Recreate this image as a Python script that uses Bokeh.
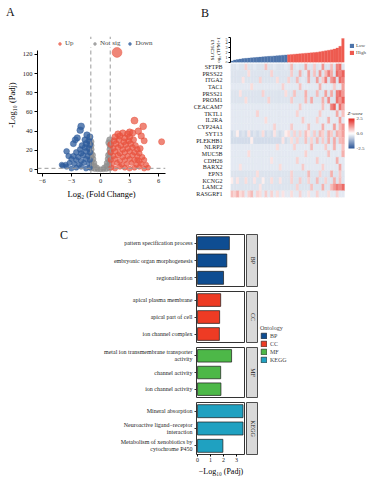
import math
from bokeh.plotting import figure
from bokeh.layouts import row, column
from bokeh.models import (ColumnDataSource, Range1d, FactorRange, Span, Legend, LegendItem,
                          Label, LinearColorMapper, ColorBar, FixedTicker, PrintfTickFormatter, Div)
from bokeh.transform import transform
from bokeh.embed import file_html
from bokeh.resources import INLINE

FONT = "Liberation Serif"

# ---------------- Panel A : volcano data ----------------
up_x = [1.1, 1.5, 2.0, 2.5, 3.0, 3.5, 4.0, 4.5, 4.9,
        1.2, 1.7, 2.2, 2.7, 3.2, 3.7, 4.2, 4.7,
        1.05, 1.5, 2.0, 2.5, 3.0, 3.5, 4.0, 4.5,
        1.3, 1.8, 2.3, 2.8, 3.3, 3.8, 4.3,
        1.05, 1.5, 2.0, 2.5, 3.0, 3.5, 4.0,
        1.3, 1.8, 2.3, 2.8, 3.3, 3.8,
        1.05, 1.6, 2.1, 2.6, 3.1, 3.6,
        1.4, 1.9, 2.4, 2.9, 3.4,
        1.5, 2.0, 2.5, 3.0,
        1.8, 2.3, 2.8,
        1.7, 3.5, 4.4, 4.2, 3.9, 6.3, 4.5, 4.1, 3.8, 3.0, 3.3]
up_y = [2, 1, 3, 2, 1, 2, 3, 1, 2,
        6, 7, 5, 6, 7, 5, 6, 5,
        10, 11, 9, 10, 11, 10, 9, 10,
        14, 15, 13, 14, 15, 14, 13,
        18, 19, 17, 18, 19, 18, 17,
        22, 23, 21, 22, 23, 21,
        26, 27, 25, 26, 27, 25,
        30, 31, 29, 30, 31,
        34, 35, 33, 34,
        37, 38, 37,
        122, 51, 45, 35, 40, 29, 30, 22, 10, 39, 38]

down_x = [-1.1, -1.5, -2.0, -2.5, -3.0, -3.5, -3.9,
          -1.2, -1.7, -2.2, -2.7, -3.2, -3.6,
          -1.1, -1.5, -2.0, -2.5, -3.0,
          -1.3, -1.8, -2.3, -2.8,
          -1.1, -1.5, -2.0, -2.5,
          -1.2, -1.6, -2.1,
          -1.1, -1.5, -1.9,
          -1.2, -1.6,
          -1.1, -1.4,
          -2.0, -2.1, -2.4, -2.6, -2.8, -3.5, -3.3, -4.0]
down_y = [2, 1, 3, 2, 1, 3, 4,
          6, 7, 5, 6, 7, 5,
          10, 11, 9, 10, 11,
          14, 15, 13, 14,
          18, 19, 17, 18,
          22, 23, 21,
          26, 27, 25,
          30, 31,
          34, 36,
          45, 41, 33, 31, 27, 19, 14, 5]

ns_x = [-0.9, -0.6, -0.3, 0.0, 0.3, 0.6, 0.9,
        -0.9, -0.6, -0.35, 0.35, 0.6, 0.9,
        -0.9, -0.65, 0.65, 0.9,
        -0.95, -0.75, 0.75, 0.95,
        -0.95, -0.8, 0.8, 0.95,
        -0.95, 0.95,
        -0.97, 0.97,
        -0.98, 0.85, 0.95]
ns_y = [1, 0.5, 0.3, 0.2, 0.3, 0.5, 1,
        5, 4, 2, 2, 4, 5,
        9, 7, 7, 9,
        13, 11, 11, 13,
        17, 15, 15, 17,
        21, 21,
        25, 25,
        29, 28, 31]

fc_cut = 1.0
p_cut = 1.3  # -log10(0.05)

# ---------------- Panel B : SLC26A3 expression + heatmap ----------------
slc_low = [0.3, 0.5, 0.6, 0.7, 0.8, 0.85, 0.9, 0.95, 1.0, 1.05,
           1.1, 1.15, 1.2, 1.25, 1.3, 1.35, 1.4, 1.45, 1.5, 1.55]
slc_high = [1.6, 1.65, 1.7, 1.75, 1.8, 1.85, 1.9, 1.95, 2.0, 2.05,
            2.1, 2.2, 2.3, 2.4, 2.5, 2.6, 2.75, 2.95, 3.3, 4.9]

genes = ["SFTPB", "PRSS22", "ITGA2", "TAC1", "PRSS21", "PROM1", "CEACAM7", "TKTL1",
         "IL2RA", "CYP24A1", "SYT13", "PLEKHB1", "NLRP2", "MUC5B", "CDH26", "BARX2",
         "EPN3", "KCNG2", "LAMC2", "RASGRF1"]

z_rows = [
    [-0.4,-0.4,-0.3,-0.4,-0.4,0.5,-0.4,-0.4,-0.3,-0.4,-0.4,-0.4,0.7,-0.4,-0.4,-0.3,-0.4,-0.4,-0.4,-0.3,
     -0.4,0.8,-0.4,-0.3,-0.4,-0.4,1.0,-0.4,-0.4,0.6,-0.4,-0.3,1.2,-0.4,-0.4,0.8,-0.4,1.4,1.6,-0.4],
    [-0.4,-0.4,-0.4,-0.4,-0.4,-0.4,0.4,-0.4,-0.4,-0.4,-0.4,-0.4,-0.4,-0.4,0.5,-0.4,-0.4,-0.4,-0.4,-0.4,
     -0.4,0.6,-0.4,-0.4,0.9,-0.4,-0.3,1.1,-0.4,0.7,-0.4,1.2,-0.4,0.8,1.5,1.0,-0.4,1.7,1.4,1.8],
    [-0.4,-0.4,-0.4,-0.4,0.3,-0.4,-0.4,-0.4,-0.4,-0.4,0.5,-0.4,-0.4,-0.4,-0.4,-0.4,0.4,-0.4,-0.4,-0.4,
     0.5,-0.4,-0.4,0.8,-0.4,-0.3,-0.4,1.0,-0.4,-0.4,1.1,-0.4,0.6,1.4,-0.4,1.2,1.5,-0.4,1.7,1.4],
    [-0.3,-0.3,-0.3,-0.3,-0.3,-0.3,-0.3,0.4,-0.3,-0.3,-0.3,-0.3,-0.3,-0.3,-0.3,-0.3,-0.3,-0.3,0.5,-0.3,
     -0.3,-0.3,-0.3,-0.3,0.7,-0.3,-0.3,-0.3,-0.3,-0.3,-0.3,0.9,-0.3,-0.3,-0.3,-0.3,0.6,-0.3,-0.3,1.1],
    [-0.4,-0.4,-0.4,0.3,-0.4,-0.4,-0.4,-0.4,-0.4,-0.4,-0.4,0.5,-0.4,-0.4,-0.4,-0.4,-0.4,-0.4,-0.4,0.4,
     -0.4,-0.4,0.7,-0.4,-0.4,-0.4,0.9,-0.4,-0.4,-0.4,0.8,-0.4,-0.4,1.1,-0.4,1.0,-0.4,1.5,1.7,1.2],
    [-0.4,-0.4,-0.4,-0.4,-0.4,0.4,-0.4,-0.4,-0.4,-0.4,-0.4,-0.4,-0.4,0.5,-0.4,-0.4,-0.4,-0.4,-0.4,-0.4,
     -0.4,0.6,-0.4,-0.4,-0.4,-0.4,0.8,-0.4,1.0,-0.4,-0.4,-0.4,0.9,-0.4,1.3,-0.4,-0.4,1.6,1.2,1.8],
    [-0.3,-0.3,-0.3,-0.3,-0.3,-0.3,-0.3,-0.3,-0.3,-0.3,-0.3,-0.3,-0.3,-0.3,-0.3,-0.3,-0.3,-0.3,-0.3,-0.3,
     -0.3,-0.3,-0.3,-0.3,0.6,-0.3,-0.3,-0.3,-0.3,-0.3,-0.3,-0.3,0.7,-0.3,-0.3,1.4,1.8,-0.3,1.6,1.0],
    [-0.3,-0.3,-0.3,-0.3,-0.3,-0.3,-0.3,-0.3,-0.3,0.5,-0.3,-0.3,-0.3,-0.3,-0.3,-0.3,-0.3,-0.3,-0.3,-0.3,
     -0.3,-0.3,-0.3,0.5,-0.3,-0.3,-0.3,-0.3,-0.3,-0.3,-0.3,0.6,-0.3,-0.3,-0.3,-0.3,-0.3,1.0,-0.3,0.7],
    [-0.3,-0.3,-0.3,-0.3,-0.3,-0.3,-0.3,-0.3,-0.3,-0.3,-0.3,-0.3,0.4,-0.3,-0.3,-0.3,-0.3,-0.3,-0.3,-0.3,
     -0.3,-0.3,-0.3,-0.3,-0.3,0.6,-0.3,-0.3,-0.3,-0.3,0.5,-0.3,-0.3,-0.3,0.9,-0.3,-0.3,-0.3,1.1,-0.3],
    [-0.3,-0.3,-0.3,-0.3,-0.3,-0.3,-0.3,-0.3,-0.3,-0.3,-0.3,-0.3,-0.3,-0.3,-0.3,0.5,-0.3,-0.3,-0.3,-0.3,
     -0.3,0.6,-0.3,-0.3,-0.3,-0.3,-0.3,0.7,-0.3,-0.3,-0.3,-0.3,0.9,-0.3,-0.3,-0.3,1.1,-0.3,0.8,1.2],
    [-0.5,-0.4,0.2,-0.5,-0.4,-0.5,0.3,-0.5,-0.4,-0.5,-0.4,0.4,-0.5,-0.4,-0.5,0.3,-0.4,-0.5,-0.4,0.2,
     0.4,-0.4,0.5,-0.4,0.5,-0.4,0.7,0.3,-0.4,0.6,-0.4,0.8,0.5,-0.4,0.9,0.6,-0.4,0.9,0.7,1.1],
    [-0.5,-0.5,-0.5,-0.5,-0.5,-0.5,-0.5,0.2,-0.5,-0.5,-0.5,-0.5,-0.5,-0.5,-0.5,-0.5,-0.5,-0.5,0.3,-0.5,
     -0.4,0.4,-0.4,0.5,-0.4,-0.4,0.7,-0.4,0.5,-0.4,0.8,-0.4,0.6,-0.4,0.9,-0.4,1.0,-0.4,0.8,0.9],
    [-0.3,-0.3,-0.3,-0.3,-0.3,-0.3,-0.3,-0.3,-0.3,-0.3,-0.3,-0.3,-0.3,-0.3,-0.3,-0.3,0.4,-0.3,-0.3,-0.3,
     -0.3,-0.3,0.5,-0.3,-0.3,-0.3,-0.3,-0.3,0.8,-0.3,-0.3,-0.3,-0.3,0.6,-0.3,-0.3,0.9,-0.3,-0.3,0.7],
    [-0.3,-0.3,-0.3,-0.3,-0.3,-0.3,0.4,-0.3,-0.3,-0.3,-0.3,-0.3,-0.3,-0.3,-0.3,-0.3,-0.3,-0.3,-0.3,-0.3,
     -0.3,-0.3,-0.3,-0.3,-0.3,-0.3,0.5,-0.3,-0.3,-0.3,-0.3,-0.3,-0.3,-0.3,0.7,-0.3,-0.3,-0.3,-0.3,0.9],
    [-0.3,-0.3,-0.3,-0.3,-0.3,-0.3,-0.3,-0.3,-0.3,-0.3,-0.3,-0.3,-0.3,-0.3,0.3,-0.3,-0.3,-0.3,-0.3,-0.3,
     -0.3,-0.3,-0.3,0.5,-0.3,-0.3,-0.3,-0.3,-0.3,-0.3,0.6,-0.3,-0.3,-0.3,-0.3,-0.3,-0.3,0.9,-0.3,-0.3],
    [-0.3,-0.3,-0.3,0.3,-0.3,-0.3,-0.3,-0.3,-0.3,-0.3,-0.3,-0.3,-0.3,-0.3,-0.3,-0.3,-0.3,0.4,-0.3,-0.3,
     -0.3,-0.3,-0.3,-0.3,-0.3,0.6,-0.3,-0.3,-0.3,-0.3,-0.3,-0.3,0.5,-0.3,-0.3,-0.3,-0.3,-0.3,1.0,-0.3],
    [-0.4,-0.4,-0.4,-0.4,-0.4,-0.4,-0.4,-0.4,-0.4,0.4,-0.4,-0.4,-0.4,-0.4,-0.4,-0.4,-0.4,-0.4,-0.4,-0.4,
     -0.4,0.5,-0.4,-0.4,-0.4,-0.4,-0.4,0.8,-0.4,-0.4,-0.4,0.5,-0.4,-0.4,-0.4,0.9,-0.4,-0.4,0.6,-0.4],
    [0.2,-0.4,0.3,-0.4,-0.4,0.4,-0.4,-0.4,0.3,-0.4,-0.4,0.2,-0.4,-0.4,0.4,-0.4,-0.4,0.3,-0.4,-0.4,
     -0.4,0.5,-0.4,-0.4,0.6,-0.4,-0.4,0.5,-0.4,-0.4,0.8,-0.4,-0.4,0.5,-0.4,-0.4,0.9,-0.4,0.7,-0.4],
    [-0.4,-0.4,-0.4,-0.4,-0.4,-0.4,-0.4,-0.4,-0.4,-0.4,0.3,-0.4,-0.4,-0.4,-0.4,-0.4,-0.4,-0.4,-0.4,-0.4,
     -0.4,-0.4,-0.4,0.5,-0.4,-0.4,-0.4,-0.4,0.7,-0.4,-0.4,-0.4,0.9,-0.4,-0.4,0.8,1.2,1.5,1.3,1.7],
    [0.7,0.5,0.9,0.4,0.6,-0.3,0.5,0.8,-0.3,0.5,0.4,-0.3,0.6,-0.3,0.5,-0.3,0.4,-0.3,0.3,-0.3,
     -0.3,0.4,-0.3,-0.3,0.5,-0.3,-0.3,0.3,-0.3,-0.3,0.5,-0.3,-0.3,-0.3,0.4,-0.3,-0.3,0.5,-0.3,-0.3],
]

# ---------------- Panel C : enrichment ----------------
bp_terms = ["pattern specification process", "embryonic organ morphogenesis", "regionalization"]
bp_vals = [2.45, 2.25, 2.0]
cc_terms = ["apical plasma membrane", "apical part of cell", "ion channel complex"]
cc_vals = [1.78, 1.7, 1.68]
mf_terms = ["metal ion transmembrane transporter\nactivity", "channel activity", "ion channel activity"]
mf_vals = [2.62, 1.78, 1.8]
kegg_terms = ["Mineral absorption", "Neuroactive ligand\u2212receptor\ninteraction",
              "Metabolism of xenobiotics by\ncytochrome P450"]
kegg_vals = [3.5, 3.5, 1.95]
ontologies = ["BP", "CC", "MF", "KEGG"]
ont_colors = ["#0E4D92", "#EE3B24", "#4DB848", "#1FA1C1"]


def base_fig(**kw):
    p = figure(toolbar_location=None, output_backend="svg", **kw)
    p.grid.visible = False
    p.background_fill_color = "white"
    p.border_fill_color = "white"
    return p


def style_axis(ax, label_size="7px", title_size="8.5px"):
    ax.major_label_text_font = FONT
    ax.major_label_text_font_size = label_size
    ax.axis_label_text_font = FONT
    ax.axis_label_text_font_size = title_size
    ax.axis_label_text_font_style = "normal"
    ax.major_label_text_color = "#222222"
    ax.axis_label_text_color = "#000000"


def letter(txt, w, h, left, top):
    return Div(text=txt, width=w, height=h, margin=0,
               styles={"font-family": FONT, "font-size": "12px", "line-height": "12px",
                       "padding-left": "%dpx" % left, "padding-top": "%dpx" % top,
                       "box-sizing": "border-box", "color": "#111111"})


# ======== Panel A ========
# frame reaches up to the legend row; the axis line stops at the data area
pa = base_fig(frame_width=128, frame_height=137, min_border_left=37, min_border_right=25,
              min_border_top=0, min_border_bottom=50,
              x_range=Range1d(-6.5, 6.7), y_range=Range1d(-4.1, 138.6))
pa.outline_line_color = None
pa.xaxis.ticker = FixedTicker(ticks=[-6, -3, 0, 3, 6])
pa.yaxis.ticker = FixedTicker(ticks=[0, 20, 40, 60, 80, 100, 120])
pa.yaxis.bounds = (-4.1, 124)
pa.xaxis.axis_label = "Log\u2082 (Fold Change)"
pa.yaxis.axis_label = "-Log\u2081\u2080 (Padj)"
for ax in (pa.xaxis[0], pa.yaxis[0]):
    style_axis(ax, label_size="6.5px")
    ax.major_tick_out = 3
    ax.major_tick_in = 0
    ax.minor_tick_line_color = None
    ax.major_label_standoff = 2
    ax.axis_label_standoff = 3
    ax.axis_line_color = "black"
    ax.major_tick_line_color = "black"

for loc in (-fc_cut, fc_cut):
    pa.add_layout(Span(location=loc, dimension="height", line_color="#9A9A9A",
                       line_dash="4 3", line_width=1))
pa.add_layout(Span(location=p_cut, dimension="width", line_color="#9A9A9A",
                   line_dash="4 3", line_width=1))


def sizes(ys):
    return [5 + min(v, 125) / 25 for v in ys]


r_ns = pa.scatter(x=ns_x, y=ns_y, size=sizes(ns_y), fill_color="#8E8E8E", line_color="#8E8E8E",
                  fill_alpha=0.75, line_alpha=0.9, line_width=0.5)
r_down = pa.scatter(x=down_x, y=down_y, size=sizes(down_y), fill_color="#2E5C9C",
                    line_color="#2E5C9C", fill_alpha=0.75, line_alpha=0.9, line_width=0.5)
r_up = pa.scatter(x=up_x, y=up_y, size=sizes(up_y), fill_color="#E8523E", line_color="#E8523E",
                  fill_alpha=0.7, line_alpha=0.9, line_width=0.5)

leg_a = Legend(items=[LegendItem(label="Up", renderers=[r_up]),
                      LegendItem(label="Not sig", renderers=[r_ns]),
                      LegendItem(label="Down", renderers=[r_down])],
               orientation="horizontal", location=(19, 126),
               label_text_font=FONT, label_text_font_size="7px", glyph_width=7, glyph_height=7,
               label_standoff=2, spacing=6, padding=1, margin=0, border_line_color=None,
               background_fill_color="white", background_fill_alpha=1, label_height=8)
pa.add_layout(leg_a)

# ======== Panel B ========
N = len(slc_low) + len(slc_high)
pbt = base_fig(frame_width=114, frame_height=25, min_border_left=38, min_border_right=24,
               min_border_top=0, min_border_bottom=1, x_range=Range1d(0, N),
               y_range=Range1d(0, 5.1), x_axis_location=None)
pbt.outline_line_color = None
r_low = pbt.vbar(x=[i + 0.5 for i in range(len(slc_low))], top=slc_low, width=1,
                 fill_color="#4E74AA", line_color="#4E74AA", line_width=0.3)
r_high = pbt.vbar(x=[len(slc_low) + i + 0.5 for i in range(len(slc_high))], top=slc_high, width=1,
                  fill_color="#EE5B50", line_color="#EE5B50", line_width=0.3)
pbt.yaxis.ticker = FixedTicker(ticks=[0, 1, 2, 3, 4, 5])
pbt.yaxis.axis_label = "SLC26A3\nlog\u2082 (TPM+1)"
style_axis(pbt.yaxis[0], label_size="4px", title_size="5px")
pbt.yaxis.major_tick_out = 2
pbt.yaxis.major_tick_in = 0
pbt.yaxis.minor_tick_line_color = None
pbt.yaxis.major_label_standoff = 1
pbt.yaxis.axis_label_standoff = 2
leg_b = Legend(items=[LegendItem(label="Low", renderers=[r_low]),
                      LegendItem(label="High", renderers=[r_high])],
               location="top_left", label_text_font=FONT, label_text_font_size="5px",
               glyph_width=5, glyph_height=5, label_height=6, label_standoff=2, spacing=1,
               padding=0, margin=5, border_line_color=None, background_fill_alpha=0)
pbt.add_layout(leg_b, "right")


def hex_to_rgb(h):
    return tuple(int(h[i:i + 2], 16) for i in (1, 3, 5))


def ramp(c1, c2, n):
    a, b = hex_to_rgb(c1), hex_to_rgb(c2)
    return ["#%02x%02x%02x" % tuple(round(a[k] + (b[k] - a[k]) * t / (n - 1)) for k in range(3))
            for t in range(n)]


palette = ramp("#2B5597", "#FFFFFF", 64)[:-1] + ramp("#FFFFFF", "#E3261F", 64)
mapper = LinearColorMapper(palette=palette, low=-2.5, high=2.5)

hx, hy, hz = [], [], []
for g, vals in zip(genes, z_rows):
    for i, v in enumerate(vals):
        hx.append(i + 0.5)
        hy.append(g)
        hz.append(v)
hsrc = ColumnDataSource(data=dict(x=hx, gene=hy, z=hz))

# heatmap frame is widened to the right so the colour key sits inside it, unclipped
HM_W, KEY_W = 114, 24
ph = base_fig(frame_width=HM_W + KEY_W, frame_height=134, min_border_left=38, min_border_right=0,
              min_border_top=0, min_border_bottom=26, x_range=Range1d(0, N * (HM_W + KEY_W) / HM_W),
              y_range=FactorRange(*reversed(genes)), x_axis_location=None)
ph.outline_line_color = None
ph.rect(x="x", y="gene", width=1, height=1, source=hsrc,
        fill_color=transform("z", mapper), line_color=transform("z", mapper), line_width=0.3)
style_axis(ph.yaxis[0], label_size="6px")
ph.yaxis.axis_line_color = None
ph.yaxis.major_tick_line_color = None
ph.yaxis.major_label_standoff = 2
cb = ColorBar(color_mapper=mapper, location=(HM_W + 2, 47), orientation="vertical",
              width=6, height=30, padding=2,
              major_label_text_font=FONT, major_label_text_font_size="5px",
              ticker=FixedTicker(ticks=[-2.5, 0, 2.5]), formatter=PrintfTickFormatter(format="%.1f"),
              label_standoff=2, major_tick_line_color=None, bar_line_color=None,
              background_fill_alpha=0, border_line_color=None)
ph.add_layout(cb)
ph.add_layout(Label(x=HM_W + 3, y=82, x_units="screen", y_units="screen", text="Z-score",
                    text_font=FONT, text_font_size="5px", text_font_style="italic",
                    text_baseline="bottom", text_color="#222222"))

# ======== Panel C ========
xr_c = Range1d(-0.08, 3.69)
DIV_C_W = 70
FACET_LEFT = 196 - DIV_C_W


def facet(terms, vals, color, top, fh, bottom, show_x):
    p = base_fig(frame_width=49, frame_height=fh, min_border_left=FACET_LEFT, min_border_right=0,
                 min_border_top=top, min_border_bottom=bottom, x_range=xr_c,
                 y_range=FactorRange(*reversed(terms)),
                 x_axis_location="below" if show_x else None)
    p.outline_line_color = "#333333"
    p.outline_line_width = 1
    p.hbar(y=terms, left=0, right=vals, height=0.75, fill_color=color,
           line_color="#1A1A1A", line_width=0.7)
    style_axis(p.yaxis[0], label_size="6px")
    p.yaxis.axis_line_color = None
    p.yaxis.major_tick_out = 2
    p.yaxis.major_tick_in = 0
    p.yaxis.major_tick_line_color = "#333333"
    p.yaxis.major_label_standoff = 2
    if show_x:
        p.xaxis.ticker = FixedTicker(ticks=[0, 1, 2, 3])
        p.xaxis.axis_label = "\u2212Log\u2081\u2080 (Padj)"
        style_axis(p.xaxis[0], label_size="6px", title_size="8px")
        p.xaxis.axis_line_color = None
        p.xaxis.major_tick_out = 2
        p.xaxis.major_tick_in = 0
        p.xaxis.minor_tick_line_color = None
        p.xaxis.major_label_standoff = 1
        p.xaxis.axis_label_standoff = 2
    return p


def strip(name, top, fh, bottom):
    s = base_fig(frame_width=12, frame_height=fh, min_border_left=1, min_border_right=0,
                 min_border_top=top, min_border_bottom=bottom, x_range=Range1d(0, 1),
                 y_range=Range1d(0, 1), x_axis_location=None, y_axis_location=None)
    s.background_fill_color = "#D9D9D9"
    s.outline_line_color = "#4D4D4D"
    s.add_layout(Label(x=0.5, y=0.5, text=name, angle=-math.pi / 2, text_align="center",
                       text_baseline="middle", text_font=FONT, text_font_size="6px",
                       text_color="#1A1A1A"))
    return s


specs = [(bp_terms, bp_vals, 11, 52, 5, False),
         (cc_terms, cc_vals, 0, 51, 5, False),
         (mf_terms, mf_vals, 0, 50, 5, False),
         (kegg_terms, kegg_vals, 0, 52, 25, True)]
facet_rows = []
for (terms, vals, top, fh, bottom, show_x), ont, col in zip(specs, ontologies, ont_colors):
    f = facet(terms, vals, col, top, fh, bottom, show_x)
    facet_rows.append(row(f, strip(ont, top, fh, bottom)))

nan = float("nan")
pl = base_fig(frame_width=108, frame_height=156, min_border_left=0, min_border_right=0,
              min_border_top=100, min_border_bottom=0, x_range=Range1d(0, 1),
              y_range=Range1d(0, 1), x_axis_location=None, y_axis_location=None)
pl.outline_line_color = None
leg_items = []
for ont, col in zip(ontologies, ont_colors):
    r = pl.quad(left=[nan], right=[nan], top=[nan], bottom=[nan], fill_color=col,
                line_color="#1A1A1A", line_width=0.6)
    leg_items.append(LegendItem(label=ont, renderers=[r]))
leg_c = Legend(items=leg_items, location="top_left", title="Ontology", title_text_font=FONT,
               title_text_font_size="6px", title_text_font_style="normal", title_standoff=1,
               label_text_font=FONT, label_text_font_size="6px", glyph_width=7, glyph_height=7,
               label_height=7, label_standoff=3, spacing=1, padding=1, margin=2,
               border_line_color=None, background_fill_alpha=0)
pl.add_layout(leg_c)

col_a = column(letter("A", 190, 36, 6, 6), pa)
col_b = column(letter("B", 176, 37, 11, 7), pbt, ph)
panel_c = row(letter("C", DIV_C_W, 256, 60, 6), column(*facet_rows), pl)
layout = column(row(col_a, col_b), panel_c)

open("out.html", "w").write(file_html(layout, INLINE))
